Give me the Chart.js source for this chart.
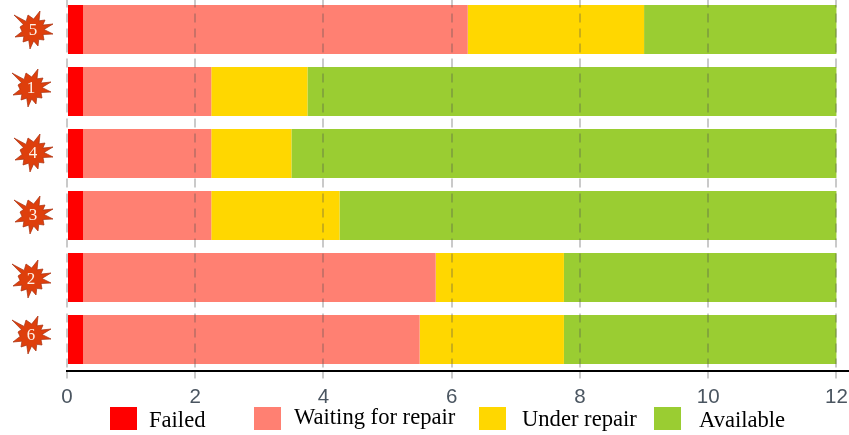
<!DOCTYPE html>
<html>
<head>
<meta charset="utf-8">
<style>
    html, body { margin: 0; padding: 0; background: #fff; overflow: hidden; }
    #wrap { position: relative; width: 849px; height: 435px; overflow: hidden; }
    #repairChart { position: absolute; left: 0; top: -10px; }
    .swatch { position: absolute; top: 407px; width: 27px; height: 23px; }
    .label { position: absolute; top: 407px; font: 22.6px "Liberation Serif", serif; color: #000; line-height: 24px; white-space: nowrap; }
</style>
</head>
<body>
<div id="wrap">
    <canvas id="repairChart" width="849" height="445"></canvas>
</div>
<script src="https://cdn.jsdelivr.net/npm/chart.js@4/dist/chart.umd.min.js"></script>
<script>
// Machines, top to bottom
const machines = ['5', '1', '4', '3', '2', '6'];

const failed = [0.25, 0.25, 0.25, 0.25, 0.25, 0.25];
const waiting = [6, 2, 2, 2, 5.5, 5.25];
const underRepair = [2.75, 1.5, 1.25, 2, 2, 2.25];
const available = [3, 8.25, 8.5, 7.75, 4.25, 4.25];

const xTicks = [0, 2, 4, 6, 8, 10, 12];

const seriesNames = ['Failed', 'Waiting for repair', 'Under repair', 'Available'];
const seriesColors = ['#FF0000', '#FF8072', '#FFD700', '#9ACD32'];

// the burst icons sit a little off the row centres in the original
const burstShift = [[33, 0.5], [31, -3.5], [33, -0.5], [33, -0.5], [31, 1.5], [31, -4.5]];
// icon outline: spike tips relative to the icon centre, clockwise from upper left
const burstSpikes = [[-19, -15], [-5, -15], [7, -19], [12, -10], [20, -6], [20, 4], [11, 10], [5, 16], [-3, 19], [-10, 12], [-18, 7], [-13, -3]];

const burstPlugin = {
    id: 'bursts',
    afterDraw(chart) {
        const ctx = chart.ctx;
        const yScale = chart.scales.y;
        machines.forEach(function(name, i) {
            const cx = burstShift[i][0];
            const cy = yScale.getPixelForTick(i) + burstShift[i][1];
            ctx.save();
            ctx.beginPath();
            burstSpikes.forEach(function(tip, k) {
                const next = burstSpikes[(k + 1) % burstSpikes.length];
                if (k === 0) ctx.moveTo(cx + tip[0], cy + tip[1]); else ctx.lineTo(cx + tip[0], cy + tip[1]);
                // valley between this spike and the next one
                const mx = tip[0] + next[0];
                const my = tip[1] + next[1];
                const len = Math.sqrt(mx * mx + my * my);
                ctx.lineTo(cx + mx / len * 11, cy + my / len * 11);
            });
            ctx.closePath();
            ctx.fillStyle = '#DE3F0C';
            ctx.strokeStyle = 'rgba(168, 48, 15, 0.7)';
            ctx.lineWidth = 1;
            ctx.fill();
            ctx.stroke();
            ctx.fillStyle = '#FFF2E8';
            ctx.font = '17px "Liberation Serif", serif';
            ctx.textAlign = 'center';
            ctx.textBaseline = 'middle';
            ctx.fillText(name, cx, cy + 1);
            ctx.restore();
        });
    }
};

new Chart(document.getElementById('repairChart'), {
    type: 'bar',
    plugins: [burstPlugin],
    data: {
        labels: machines,
        datasets: [failed, waiting, underRepair, available].map(function(values, i) {
            return {
                label: seriesNames[i],
                data: values,
                backgroundColor: seriesColors[i],
                barPercentage: 0.79,
                categoryPercentage: 1
            };
        })
    },
    options: {
        indexAxis: 'y',
        responsive: false,
        animation: false,
        layout: { padding: { top: 8.5, right: 0, left: 0, bottom: 0 } },
        plugins: {
            legend: { display: false },
            tooltip: { enabled: false }
        },
        scales: {
            x: {
                stacked: true,
                min: 0,
                max: 12.196,
                afterFit: function(scale) {
                    scale.height = 64.5;
                    scale.paddingRight = 0;
                    scale.paddingLeft = 0;
                },
                afterBuildTicks: function(scale) {
                    scale.ticks = xTicks.map(function(v) { return { value: v }; });
                },
                ticks: {
                    color: '#4A5560',
                    padding: 7,
                    maxRotation: 0,
                    font: { family: '"Liberation Sans", Arial, sans-serif', size: 20.5 }
                },
                grid: {
                    z: 1,
                    color: 'rgba(80, 80, 80, 0.3)',
                    lineWidth: 2,
                    tickLength: 8,
                    tickColor: 'rgba(80, 80, 80, 0.3)',
                    tickBorderDash: [9, 6]
                },
                border: { display: true, color: '#000', width: 2, z: 2, dash: [9, 6] }
            },
            y: {
                stacked: true,
                afterFit: function(scale) { scale.width = 67; },
                ticks: { display: false },
                grid: { display: false },
                border: { display: false }
            }
        }
    }
});

// Legend is plain HTML, the spacing of the original is uneven
const wrap = document.getElementById('wrap');
const swatchX = [110, 254, 479, 654];
const labelX = [149, 294, 522, 699];
const labelTop = [408, 405, 407, 408];
seriesNames.forEach(function(name, i) {
    const swatch = document.createElement('div');
    swatch.className = 'swatch';
    swatch.style.left = swatchX[i] + 'px';
    swatch.style.background = seriesColors[i];
    wrap.appendChild(swatch);
    const label = document.createElement('div');
    label.className = 'label';
    label.style.left = labelX[i] + 'px';
    label.style.top = labelTop[i] + 'px';
    label.textContent = name;
    wrap.appendChild(label);
});
</script>
</body>
</html>
